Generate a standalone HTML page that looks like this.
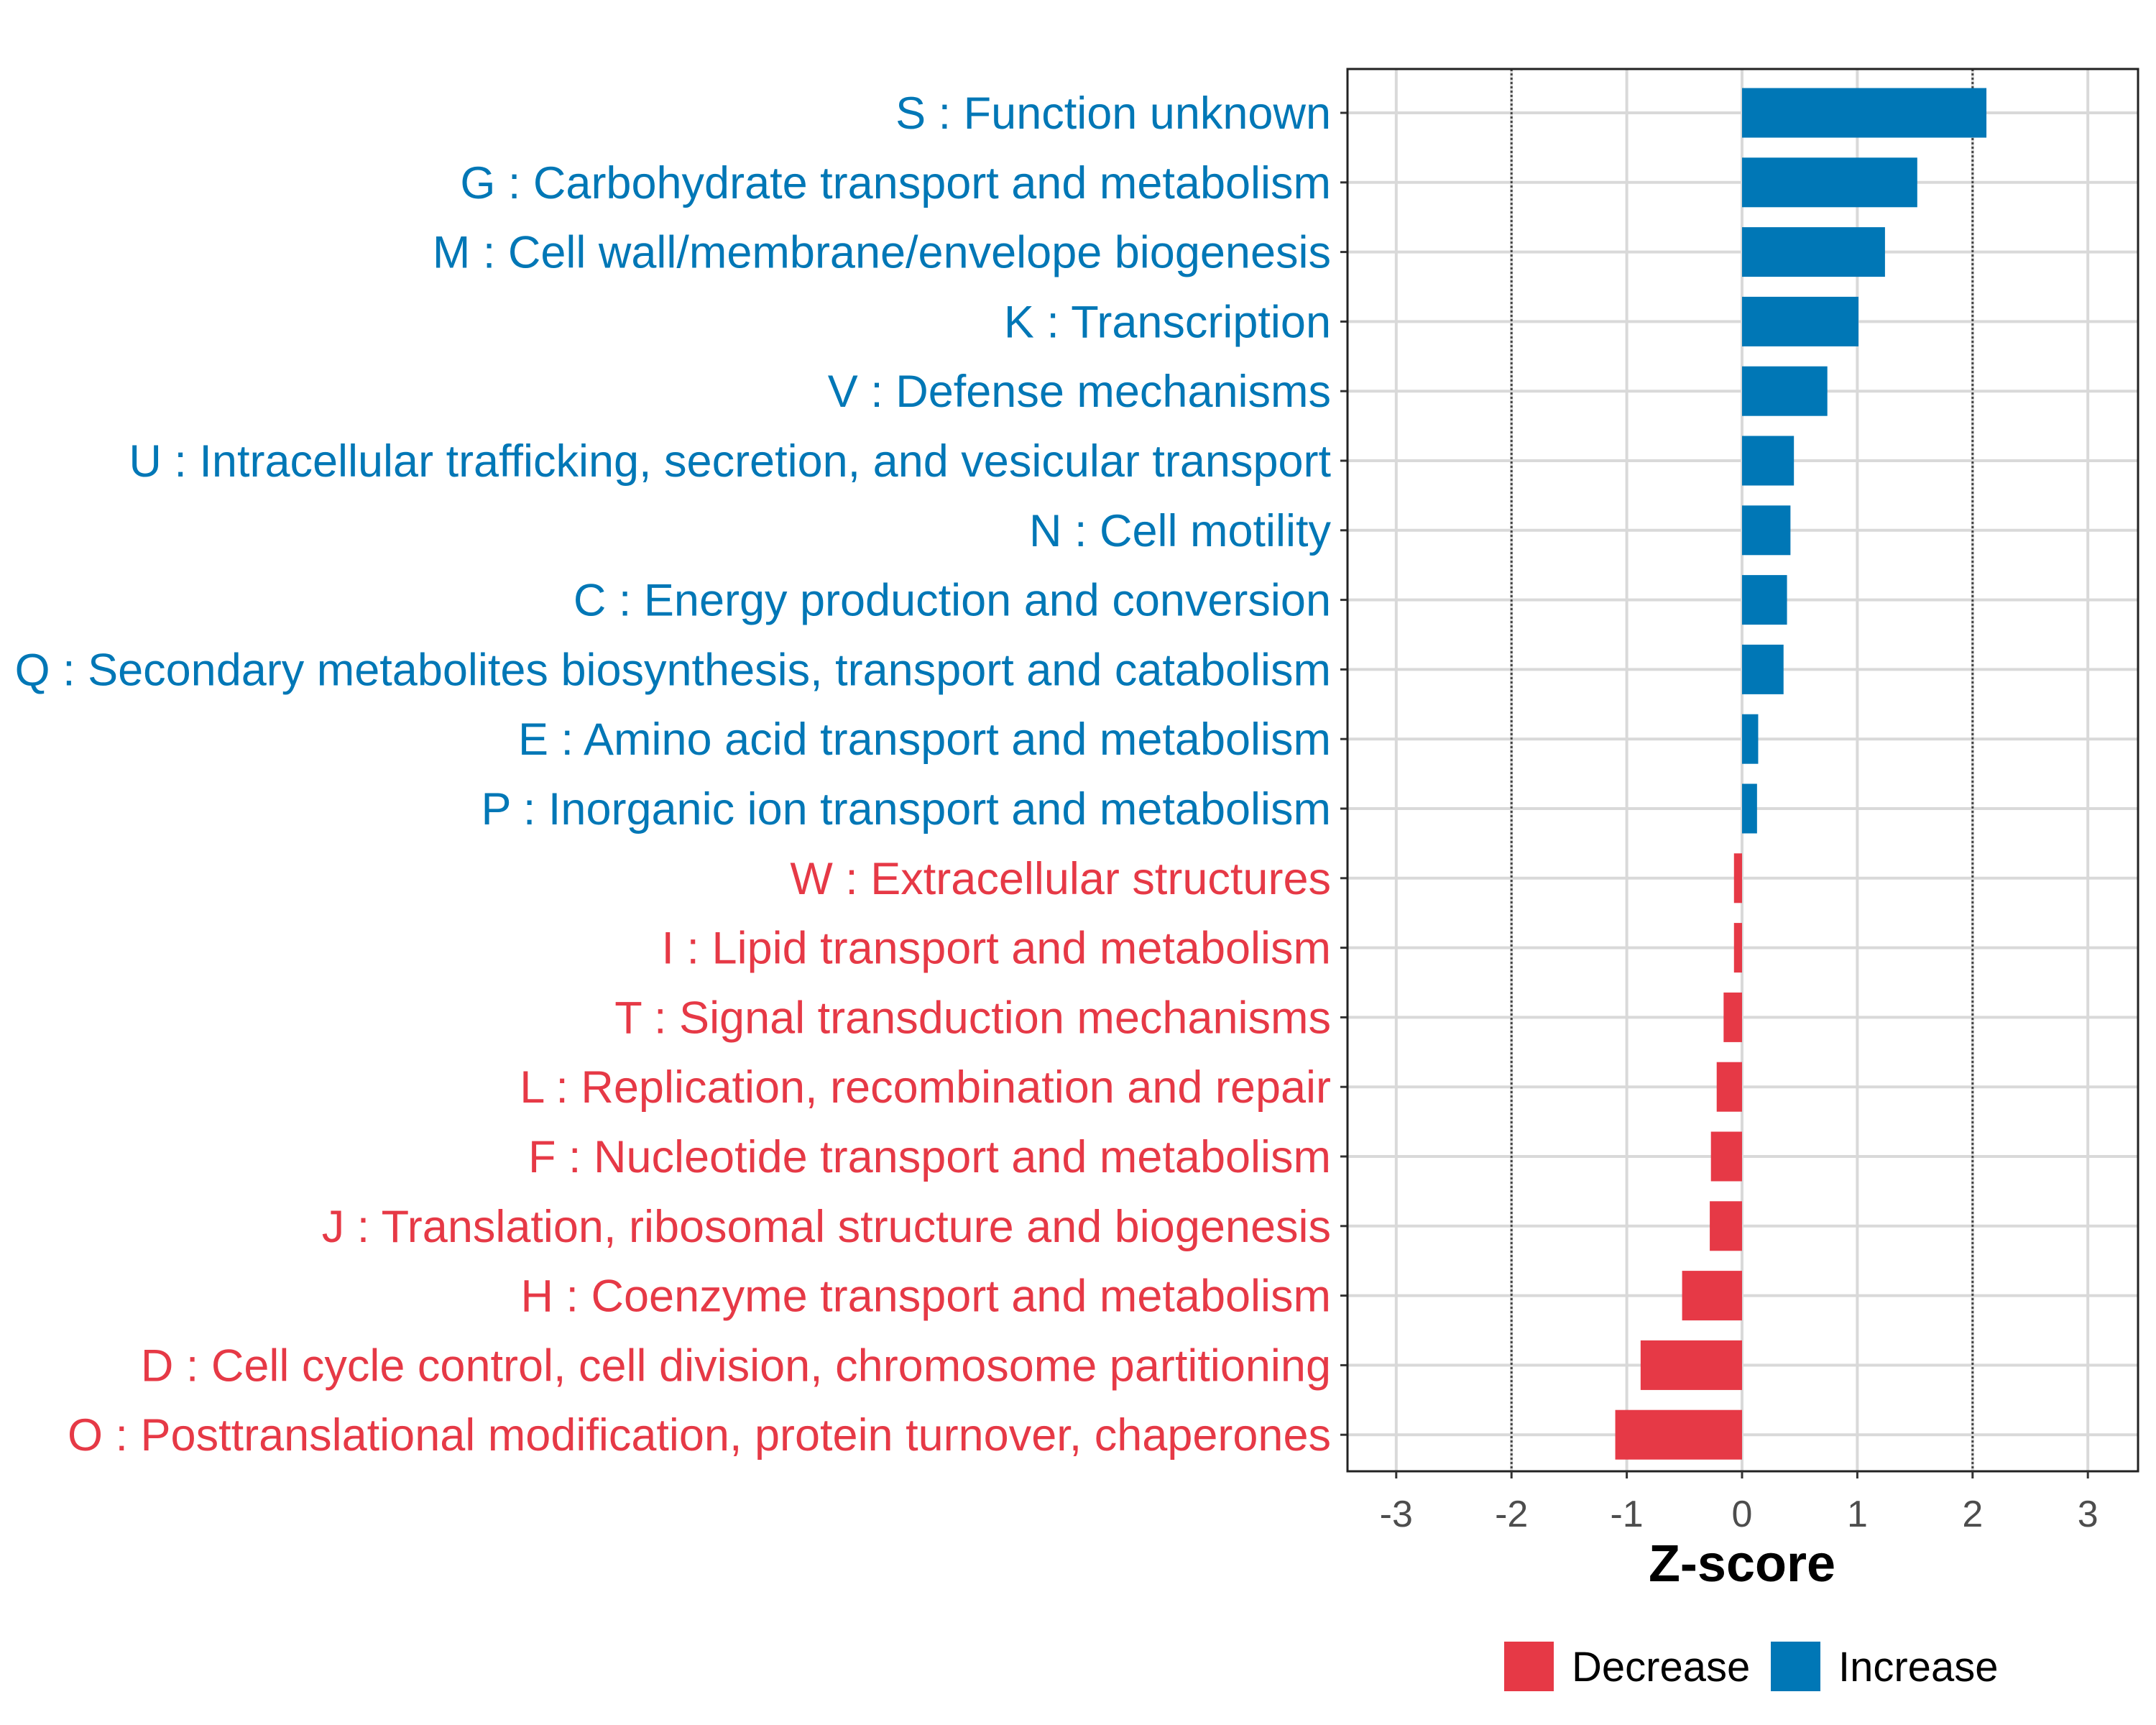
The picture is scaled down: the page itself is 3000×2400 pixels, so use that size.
<!DOCTYPE html>
<html><head><meta charset="utf-8"><style>body{margin:0;background:#fff}svg{display:block}</style></head>
<body>
<svg id="chart" width="3000" height="2400" xmlns="http://www.w3.org/2000/svg" font-family="Liberation Sans, sans-serif"></svg>
<script>
const categories = ["S : Function unknown","G : Carbohydrate transport and metabolism","M : Cell wall/membrane/envelope biogenesis","K : Transcription","V : Defense mechanisms","U : Intracellular trafficking, secretion, and vesicular transport","N : Cell motility","C : Energy production and conversion","Q : Secondary metabolites biosynthesis, transport and catabolism","E : Amino acid transport and metabolism","P : Inorganic ion transport and metabolism","W : Extracellular structures","I : Lipid transport and metabolism","T : Signal transduction mechanisms","L : Replication, recombination and repair","F : Nucleotide transport and metabolism","J : Translation, ribosomal structure and biogenesis","H : Coenzyme transport and metabolism","D : Cell cycle control, cell division, chromosome partitioning","O : Posttranslational modification, protein turnover, chaperones"];
const zscores = [2.12,1.52,1.24,1.01,0.74,0.45,0.42,0.39,0.36,0.14,0.13,-0.07,-0.07,-0.16,-0.22,-0.27,-0.28,-0.52,-0.88,-1.10];
const xTicks = [-3,-2,-1,0,1,2,3];
const thresholds = [-2,2];

const NS="http://www.w3.org/2000/svg";
const svg=document.getElementById('chart');
const BLUE="#0077B6", RED="#E63946";
const L=1875,R=2975,T=96,B=2047;
const x=v=>2424+v*160.4;
const y=i=>157+i*96.8;
function mk(t,a,p){const e=document.createElementNS(NS,t);for(const k in a)e.setAttribute(k,a[k]);(p||svg).appendChild(e);return e;}

xTicks.forEach(v=>{const g=mk('line',{x1:x(v),x2:x(v),y1:T,y2:B,stroke:'#d9d9d9','stroke-width':4});

});
categories.forEach((c,i)=>{const g=mk('line',{x1:L,x2:R,y1:y(i),y2:y(i),stroke:'#d9d9d9','stroke-width':4});

});
thresholds.forEach(v=>{const d=mk('line',{x1:x(v),x2:x(v),y1:T,y2:B,stroke:'#444','stroke-width':3,'stroke-dasharray':'3,3'});

});

categories.forEach((c,i)=>{
 const v=zscores[i], col=v>=0?BLUE:RED;
 const b=mk('rect',{x:Math.min(x(0),x(v)),y:y(i)-34.5,width:Math.abs(x(v)-x(0)),height:69,fill:col});
 
 
 const t=mk('text',{x:1852,y:y(i)+22,'text-anchor':'end','font-size':63,fill:col});
 t.textContent=c;
 
 
 mk('line',{x1:L-10,x2:L,y1:y(i),y2:y(i),stroke:'#333','stroke-width':3});
});
const fr=mk('rect',{x:L,y:T,width:R-L,height:B-T,fill:'none',stroke:'#222','stroke-width':3});


xTicks.forEach(v=>{
 mk('line',{x1:x(v),x2:x(v),y1:B,y2:B+10,stroke:'#333','stroke-width':3});
 const t=mk('text',{x:x(v),y:2124,'text-anchor':'middle','font-size':52,fill:'#4d4d4d'});
 t.textContent=String(v);
 
 
});
const at=mk('text',{x:2424,y:2200,'text-anchor':'middle','font-size':72,'font-weight':'bold',fill:'#000'});
at.textContent='Z-score';



[['Decrease',RED,2093],['Increase',BLUE,2464]].forEach(([n,c,lx])=>{
 const s=mk('rect',{x:lx,y:2284,width:69,height:69,fill:c});
 
 
 const t=mk('text',{x:lx+94,y:2339,'font-size':58,fill:'#000'});
 t.textContent=n;
 
 
});
</script>
</body></html>
